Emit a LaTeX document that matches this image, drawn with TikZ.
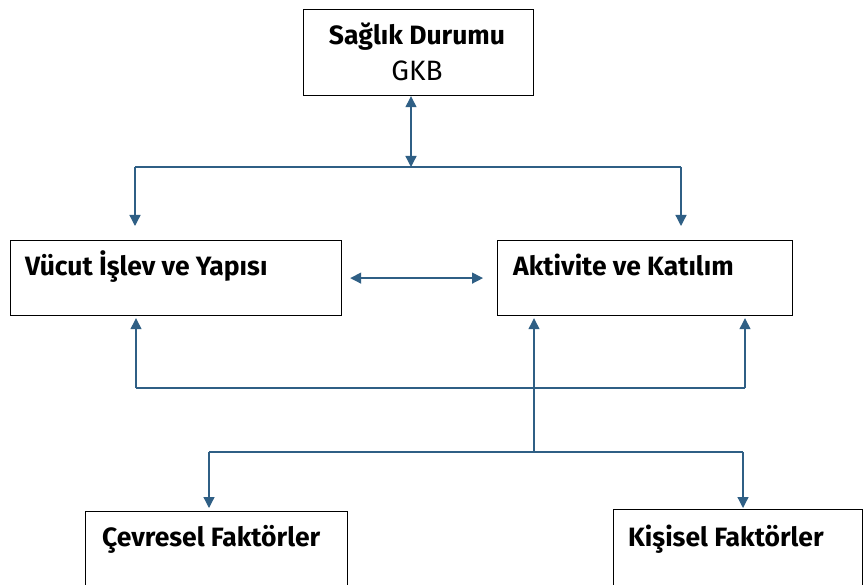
\documentclass[tikz,border=0pt]{standalone}
\usepackage{fontspec}
\setmainfont{Fira Sans}
\usetikzlibrary{arrows.meta,calc}
\definecolor{arr}{RGB}{47,95,133}
\begin{document}
\begin{tikzpicture}[x=1pt,y=-1pt,
  box/.style={draw=black,line width=1.2pt,rectangle,inner sep=0pt,anchor=north west},
  lbl/.style={inner sep=0pt,font=\fontsize{26.5}{30}\selectfont\bfseries},
  sub/.style={inner sep=0pt,font=\fontsize{28}{30}\selectfont},
  conn/.style={draw=arr,line width=1.3pt},
  arw/.style={conn,-{Triangle[length=11pt,width=11pt]}},
  darw/.style={conn,{Triangle[length=11pt,width=11pt]}-{Triangle[length=11pt,width=11pt]}}]
\path[use as bounding box,fill=white] (0,0) rectangle (864,585);
\clip (0,0) rectangle (864,585);
% boxes
\node[box,minimum width=230pt,minimum height=86pt] (sd) at (303,9) {};
\node[box,minimum width=331pt,minimum height=75pt] (vb) at (10,240) {};
\node[box,minimum width=295pt,minimum height=75pt] (ak) at (497,240) {};
\node[box,minimum width=262pt,minimum height=95pt] (cf) at (85,511) {};
\node[box,minimum width=249pt,minimum height=95pt] (kf) at (613,509) {};
% texts
\node[lbl,anchor=base] (sdt) at (417,45) {Sağlık Durumu};
\node[sub,anchor=base] (sds) at (417,81) {GKB};
\node[lbl,anchor=base west] (vbt) at (25,275) {Vücut İşlev ve Yapısı};
\node[lbl,anchor=base west] (akt) at (513,276) {Aktivite ve Katılım};
\node[lbl,anchor=base west] (cft) at (102,546) {Çevresel Faktörler};
\node[lbl,anchor=base west] (kft) at (628,546) {Kişisel Faktörler};
% junction coordinates
\coordinate (j1) at (411,167);
\coordinate (hl) at (135,167);
\coordinate (hr) at (681,167);
\coordinate (fl) at (136,388);
\coordinate (fr) at (745,388);
\coordinate (jb) at (534,452);
\coordinate (bl) at (209,452);
\coordinate (br) at (743,452);
% top
\draw[darw] (j1) -- (j1 |- sd.south);
\draw[conn] (hl) -- (hr);
\draw[arw,shorten >=14pt] (hl) -- (hl |- vb.north);
\draw[arw,shorten >=14pt] (hr) -- (hr |- ak.north);
% middle
\draw[darw,shorten <=8pt,shorten >=14pt] (vb.east) -- (ak.west);
% feedback
\draw[conn] (fl) -- (fr);
\draw[arw,shorten >=2pt] (fl) -- (fl |- vb.south);
\draw[arw,shorten >=2pt] (fr) -- (fr |- ak.south);
\draw[arw,shorten >=2pt] (jb) -- (jb |- ak.south);
% bottom
\draw[conn] (bl) -- (br);
\draw[arw,shorten >=3pt] (bl) -- (bl |- cf.north);
\draw[arw,shorten >=1pt] (br) -- (br |- kf.north);
\end{tikzpicture}
\end{document}
